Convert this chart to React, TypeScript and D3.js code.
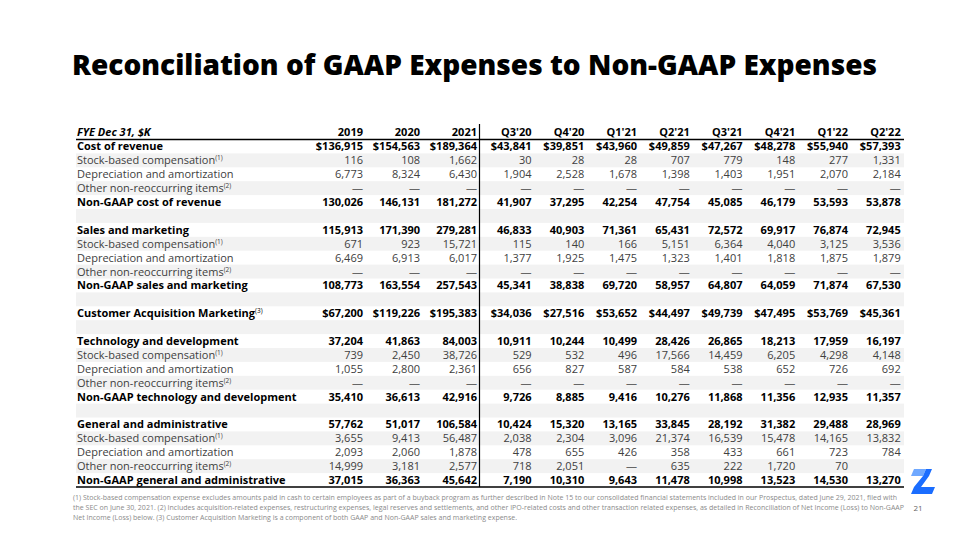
import React from "react";
import * as d3 from "d3";

const annualCols = ["2019", "2020", "2021"];
const quarterCols = ["Q3'20", "Q4'20", "Q1'21", "Q2'21", "Q3'21", "Q4'21", "Q1'22", "Q2'22"];

type Row = { label: string; sup?: string; bold?: boolean; dollar?: boolean; blank?: boolean; values?: (number | null | undefined)[] };

const D = null;
const costOfRevenue = [136915, 154563, 189364, 43841, 39851, 43960, 49859, 47267, 48278, 55940, 57393];
const corSbc = [116, 108, 1662, 30, 28, 28, 707, 779, 148, 277, 1331];
const corDa = [6773, 8324, 6430, 1904, 2528, 1678, 1398, 1403, 1951, 2070, 2184];
const corOther = [D, D, D, D, D, D, D, D, D, D, D];
const corNonGaap = [130026, 146131, 181272, 41907, 37295, 42254, 47754, 45085, 46179, 53593, 53878];

const salesMarketing = [115913, 171390, 279281, 46833, 40903, 71361, 65431, 72572, 69917, 76874, 72945];
const smSbc = [671, 923, 15721, 115, 140, 166, 5151, 6364, 4040, 3125, 3536];
const smDa = [6469, 6913, 6017, 1377, 1925, 1475, 1323, 1401, 1818, 1875, 1879];
const smOther = [D, D, D, D, D, D, D, D, D, D, D];
const smNonGaap = [108773, 163554, 257543, 45341, 38838, 69720, 58957, 64807, 64059, 71874, 67530];

const customerAcq = [67200, 119226, 195383, 34036, 27516, 53652, 44497, 49739, 47495, 53769, 45361];

const techDev = [37204, 41863, 84003, 10911, 10244, 10499, 28426, 26865, 18213, 17959, 16197];
const tdSbc = [739, 2450, 38726, 529, 532, 496, 17566, 14459, 6205, 4298, 4148];
const tdDa = [1055, 2800, 2361, 656, 827, 587, 584, 538, 652, 726, 692];
const tdOther = [D, D, D, D, D, D, D, D, D, D, D];
const tdNonGaap = [35410, 36613, 42916, 9726, 8885, 9416, 10276, 11868, 11356, 12935, 11357];

const genAdmin = [57762, 51017, 106584, 10424, 15320, 13165, 33845, 28192, 31382, 29488, 28969];
const gaSbc = [3655, 9413, 56487, 2038, 2304, 3096, 21374, 16539, 15478, 14165, 13832];
const gaDa = [2093, 2060, 1878, 478, 655, 426, 358, 433, 661, 723, 784];
const gaOther = [14999, 3181, 2577, 718, 2051, D, 635, 222, 1720, 70, undefined];
const gaNonGaap = [37015, 36363, 45642, 7190, 10310, 9643, 11478, 10998, 13523, 14530, 13270];

const rows: Row[] = [
  { label: "Cost of revenue", bold: true, dollar: true, values: costOfRevenue },
  { label: "Stock-based compensation", sup: "(1)", values: corSbc },
  { label: "Depreciation and amortization", values: corDa },
  { label: "Other non-reoccurring items", sup: "(2)", values: corOther },
  { label: "Non-GAAP cost of revenue", bold: true, values: corNonGaap },
  { label: "", blank: true },
  { label: "Sales and marketing", bold: true, values: salesMarketing },
  { label: "Stock-based compensation", sup: "(1)", values: smSbc },
  { label: "Depreciation and amortization", values: smDa },
  { label: "Other non-reoccurring items", sup: "(2)", values: smOther },
  { label: "Non-GAAP sales and marketing", bold: true, values: smNonGaap },
  { label: "", blank: true },
  { label: "Customer Acquisition Marketing", sup: "(3)", bold: true, dollar: true, values: customerAcq },
  { label: "", blank: true },
  { label: "Technology and development", bold: true, values: techDev },
  { label: "Stock-based compensation", sup: "(1)", values: tdSbc },
  { label: "Depreciation and amortization", values: tdDa },
  { label: "Other non-reoccurring items", sup: "(2)", values: tdOther },
  { label: "Non-GAAP technology and development", bold: true, values: tdNonGaap },
  { label: "", blank: true },
  { label: "General and administrative", bold: true, values: genAdmin },
  { label: "Stock-based compensation", sup: "(1)", values: gaSbc },
  { label: "Depreciation and amortization", values: gaDa },
  { label: "Other non-reoccurring items", sup: "(2)", values: gaOther },
  { label: "Non-GAAP general and administrative", bold: true, values: gaNonGaap },
];

const footnotes = [
  "(1) Stock-based compensation expense excludes amounts paid in cash to certain employees as part of a buyback program as further described in Note 15 to our consolidated financial statements included in our Prospectus, dated June 29, 2021, filed with",
  "the SEC on June 30, 2021. (2) Includes acquisition-related expenses, restructuring expenses, legal reserves and settlements, and other IPO-related costs and other transaction related expenses, as detailed in Reconciliation of Net Income (Loss) to Non-GAAP",
  "Net Income (Loss) below. (3) Customer Acquisition Marketing is a component of both GAAP and Non-GAAP sales and marketing expense.",
];
const footnoteWidths = [824, 831, 444];

const FONT = "'Open Sans', 'Noto Sans', sans-serif";

export default function App() {
  const W = 960, H = 540;
  const left = 76, right = 904;
  const xAnnual = d3.scalePoint<string>().domain(annualCols).range([363, 477]);
  const xQuarter = d3.scalePoint<string>().domain(quarterCols).range([531.5, 900.7]);
  const colX = [...annualCols.map((c) => xAnnual(c)!), ...quarterCols.map((c) => xQuarter(c)!)];
  const cols = [...annualCols, ...quarterCols];
  const y = d3.scaleBand<number>().domain(d3.range(rows.length)).range([139.5, 487]).paddingInner(0);
  const bh = y.bandwidth();
  const headerTop = 124;
  const fmt = d3.format(",");
  const dividerX = 479.5;

  return (
    <svg width={W} height={H} style={{ position: "absolute", left: 0, top: 0, background: "#fff" }}>
      <rect width={W} height={H} fill="#fff" />
      <text x={72} y={75} fontFamily={FONT} fontWeight={800} fontSize={29} fill="#000" textLength={805} lengthAdjust="spacingAndGlyphs">
        Reconciliation of GAAP Expenses to Non-GAAP Expenses
      </text>

      {rows.map((r, i) =>
        i % 2 === 1 ? <rect key={"bg" + i} x={left} y={y(i)!} width={right - left} height={bh} fill="#f2f2f2" /> : null
      )}

      {/* header */}
      <text x={77} y={headerTop + 11.5} fontFamily={FONT} fontSize={11} fontWeight={700} fontStyle="italic" fill="#000">
        FYE Dec 31, $K
      </text>
      {cols.map((c, j) => (
        <text key={c} x={colX[j]} y={headerTop + 11.5} textAnchor="end" fontFamily={FONT} fontSize={11} fontWeight={700} fill="#000">
          {c}
        </text>
      ))}

      {rows.map((r, i) => {
        const yc = y(i)! + bh / 2 + 4;
        if (r.blank) return null;
        const color = r.bold ? "#000" : "#404040";
        return (
          <g key={"r" + i}>
            <text x={77} y={yc} fontFamily={FONT} fontSize={11} fontWeight={r.bold ? 700 : 400} fill={color}>
              {r.label}
              {r.sup ? (
                <tspan fontSize={6.5} dy={-4} fontWeight={400}>
                  {r.sup}
                </tspan>
              ) : null}
            </text>
            {r.values!.map((v, j) => {
              if (v === undefined) return null;
              const s = v === null ? "—" : (r.dollar ? "$" : "") + fmt(v);
              return (
                <text
                  key={j}
                  x={colX[j]}
                  y={yc}
                  textAnchor="end"
                  fontFamily={FONT}
                  fontSize={11}
                  fontWeight={r.bold ? 700 : 400}
                  fill={v === null ? "#666" : color}
                >
                  {s}
                </text>
              );
            })}
          </g>
        );
      })}

      <line x1={left} x2={right} y1={139.5} y2={139.5} stroke="#000" strokeWidth={1.5} />
      <line x1={left} x2={right} y1={487} y2={487} stroke="#000" strokeWidth={1.5} />
      <line x1={dividerX} x2={dividerX} y1={headerTop} y2={487} stroke="#000" strokeWidth={1.2} />

      {footnotes.map((f, i) => (
        <text
          key={"fn" + i}
          x={73}
          y={499.5 + i * 10.3}
          fontFamily={FONT}
          fontSize={6.6}
          fill="#8a8a8a"
          textLength={footnoteWidths[i]}
          lengthAdjust="spacingAndGlyphs"
        >
          {f}
        </text>
      ))}

      {/* logo */}
      <polygon points="914,469 926,469 923,476 911,476" fill="#6fa8ff" />
      <polygon points="926,469 932,469 929,476 921,487 935,487 932,494 911,494 914,487 923,476" fill="#1a6dff" />
      <text x={918} y={511} textAnchor="middle" fontFamily={FONT} fontSize={8} fill="#666">
        21
      </text>
    </svg>
  );
}
